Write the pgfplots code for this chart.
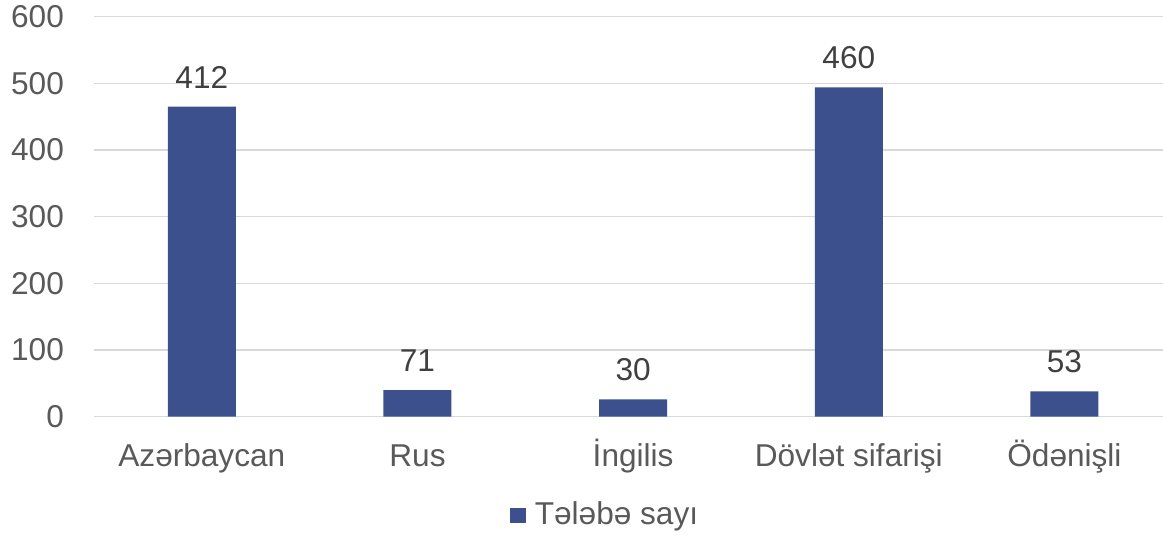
\documentclass[border=0pt]{standalone}
\usepackage{pgfplots}
\pgfplotsset{compat=1.18}
\usepackage{fontspec}
\setmainfont{Liberation Sans}

\definecolor{barblue}{HTML}{3C508E}
\definecolor{gridgray}{HTML}{D9D9D9}
\definecolor{ticktext}{HTML}{595959}
\definecolor{valtext}{HTML}{404040}

% bar heights as drawn, with the printed labels
\pgfplotstableread{
x h lab
0 465 412
1 40 71
2 26 30
3 494 460
4 38 53
}\students

\begin{document}
\fontsize{15.8}{18}\selectfont
\begin{tikzpicture}
\begin{axis}[
    scale only axis,
    width=534.5pt, height=200pt,
    at={(0,0)}, anchor=south west,
    ymin=0, ymax=600, ytick={0,100,...,600},
    xmin=-0.5, xmax=4.457,
    xtick=data,
    xticklabels={Azərbaycan,Rus,İngilis,Dövlət sifarişi,Ödənişli},
    axis line style={draw=none},
    major tick length=0pt,
    ymajorgrids,
    grid style={gridgray, line width=0.75pt},
    /pgf/number format/assume math mode=true,
    ticklabel style={text=ticktext, font=\fontsize{15.8}{18}\selectfont},
    yticklabel style={anchor=east, xshift=-9.6pt},
    xticklabel style={anchor=base, yshift=-25pt},
    legend style={draw=none, fill=none, at={(0.383,-0.248)}, anchor=west,
      font=\fontsize{15.8}{18}\selectfont, text=ticktext,
      /tikz/every odd column/.append style={column sep=2.5pt}},
    legend image code/.code={\fill[barblue] (0pt,-3.75pt) rectangle (8pt,3.75pt);},
]
\addplot[ybar, bar width=34pt, fill=barblue, draw=none,
    point meta=explicit symbolic,
    nodes near coords,
    nodes near coords style={anchor=base, yshift=9.2pt, text=valtext,
      font=\fontsize{15.8}{18}\selectfont}]
  table[x=x, y=h, meta=lab] {\students};
\addlegendentry{Tələbə sayı}
\end{axis}
\pgfresetboundingbox
\useasboundingbox (-47pt,-59.65pt) rectangle (534.5pt,208.35pt);
\end{tikzpicture}
\end{document}
